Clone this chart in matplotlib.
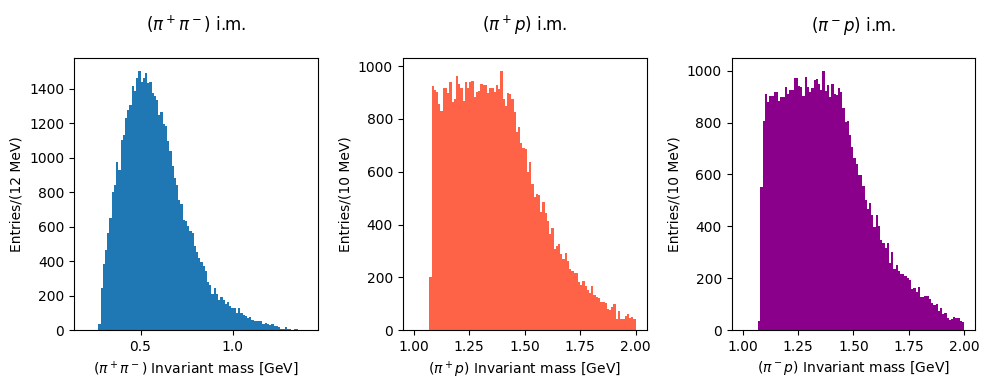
import matplotlib
matplotlib.use("Agg")
from matplotlib import pyplot as plt
import numpy as np

# bin edges of the three histograms (100 bins each)
edgesPiPi = np.linspace(0.2, 1.4, 101)
edgesPiP = np.linspace(1.0, 2.0, 101)

# pi+ pi- counts per 12 MeV bin
countsPiPi = [0, 0, 0, 0, 0, 0, 35, 243, 383, 464,
              564, 649, 800, 840, 974, 927, 1101, 1130, 1227, 1279,
              1304, 1414, 1385, 1459, 1501, 1436, 1459, 1488, 1430, 1436,
              1372, 1356, 1333, 1250, 1267, 1194, 1186, 1098, 1038, 951,
              882, 841, 754, 731, 638, 634, 603, 574, 560, 488,
              454, 415, 392, 371, 342, 280, 261, 209, 241, 209,
              174, 189, 174, 150, 165, 140, 128, 130, 99, 128,
              99, 87, 81, 71, 75, 58, 52, 52, 52, 52,
              35, 41, 35, 29, 35, 23, 23, 17, 6, 6,
              17, 6, 6, 0, 6, 5, 0, 0, 0, 0]

# pi+ p counts per 10 MeV bin
countsPipP = [0, 0, 0, 0, 0, 0, 0, 201, 924, 909,
              901, 856, 830, 916, 916, 899, 939, 864, 875, 962,
              931, 916, 868, 939, 916, 939, 943, 883, 901, 905,
              931, 929, 929, 899, 916, 916, 902, 929, 912, 981,
              875, 849, 899, 893, 875, 825, 750, 769, 709, 690,
              685, 599, 636, 555, 505, 517, 510, 447, 485, 442,
              413, 363, 386, 307, 318, 326, 288, 269, 292, 261,
              231, 225, 215, 215, 183, 170, 186, 166, 150, 142,
              167, 133, 127, 121, 105, 105, 101, 80, 76, 87,
              98, 42, 72, 42, 42, 53, 61, 47, 49, 42]

# pi- p counts per 10 MeV bin
countsPimP = [0, 0, 0, 0, 0, 0, 0, 35, 552, 805,
              910, 878, 901, 901, 917, 917, 883, 897, 897, 936,
              910, 924, 924, 971, 971, 940, 936, 901, 976, 936,
              917, 933, 963, 967, 949, 924, 998, 922, 945, 897,
              950, 912, 906, 932, 917, 858, 802, 806, 754, 705,
              664, 640, 597, 597, 555, 501, 467, 488, 443, 398,
              443, 401, 347, 334, 316, 334, 259, 300, 234, 250,
              226, 216, 216, 208, 200, 193, 158, 162, 146, 166,
              128, 128, 131, 131, 119, 104, 96, 100, 73, 85,
              62, 65, 46, 39, 42, 50, 46, 46, 35, 31]

fig, (ax1, ax2, ax3) = plt.subplots(1, 3)
fig.set_size_inches(9.89, 3.9)
fig.subplots_adjust(left=0.0748, right=0.9863, bottom=0.1538, top=0.8505, wspace=0.3477)

ax1.hist(edgesPiPi[:-1], bins=edgesPiPi, weights=countsPiPi, color="#1f77b4")
ax1.set_title(r"$(\pi^+\pi^-)$ i.m.", pad=20)
ax1.set_xlabel(r"$(\pi^+\pi^-)$ Invariant mass [GeV]")
ax1.set_ylabel("Entries/(12 MeV)")
ax1.set_xticks([0.5, 1.0])

ax2.hist(edgesPiP[:-1], bins=edgesPiP, weights=countsPipP, color="tomato")
ax2.set_title(r"$(\pi^+p)$ i.m.", pad=20)
ax2.set_xlabel(r"$(\pi^+p)$ Invariant mass [GeV]")
ax2.set_ylabel("Entries/(10 MeV)")

ax3.hist(edgesPiP[:-1], bins=edgesPiP, weights=countsPimP, color="darkmagenta")
ax3.set_title(r"$(\pi^-p)$ i.m.", pad=20)
ax3.set_xlabel(r"$(\pi^-p)$ Invariant mass [GeV]")
ax3.set_ylabel("Entries/(10 MeV)")

plt.savefig("out.png", dpi=100)
